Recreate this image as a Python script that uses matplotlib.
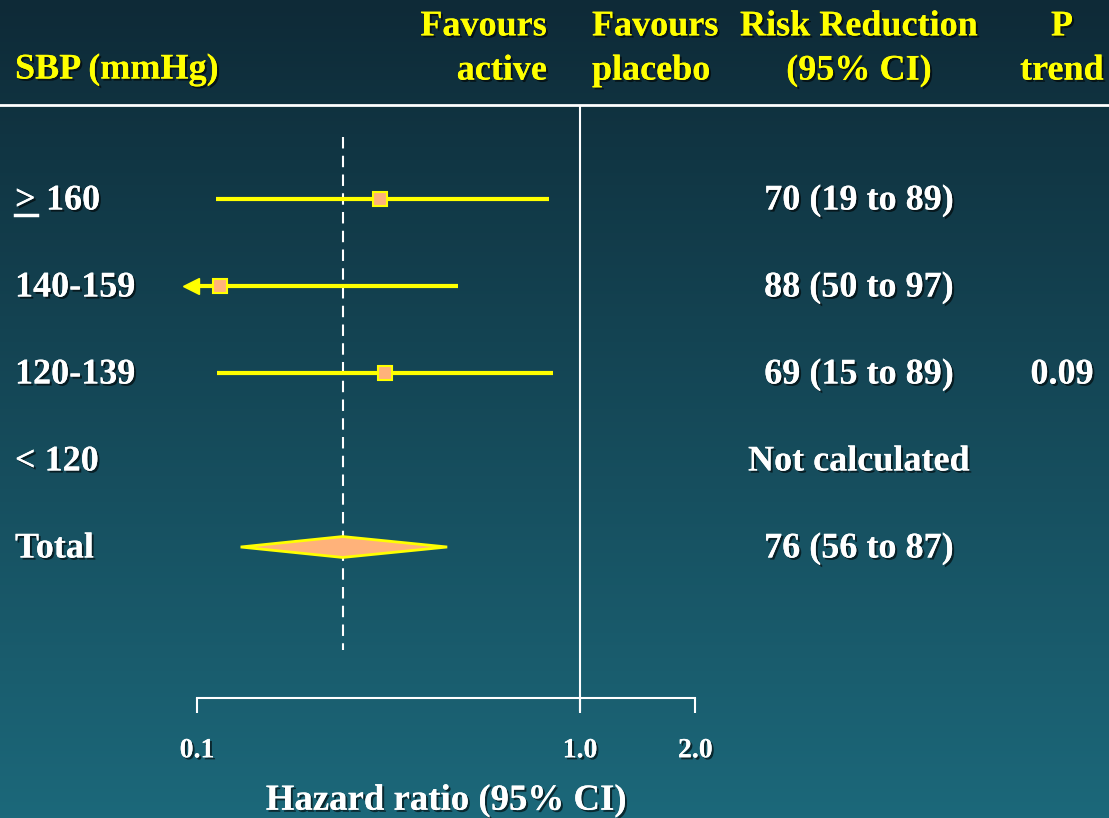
import numpy as np
import matplotlib
matplotlib.use('Agg')
import matplotlib.pyplot as plt
import matplotlib.patheffects as pe
from matplotlib.lines import Line2D
from matplotlib.patches import Polygon

W, H = 1109, 818

# data
groups = ['> 160', '140-159', '120-139', '< 120', 'Total']
hr = [0.30, 0.115, 0.31, None, 0.24]
ci_low = [0.112, 0.03, 0.113, None, 0.13]
ci_high = [0.83, 0.48, 0.85, None, 0.45]
risk_text = ['70 (19 to 89)', '88 (50 to 97)', '69 (15 to 89)', 'Not calculated', '76 (56 to 87)']
p_trend = ['', '', '0.09', '', '']
tick_vals = [0.1, 1.0, 2.0]
tick_labels = ['0.1', '1.0', '2.0']

YELLOW = '#ffff00'
PEACH = '#ffb27a'
axis_floor = 0.0965  # where the clipped CI arrow is drawn

plt.rcParams['font.family'] = ['Liberation Serif', 'DejaVu Serif']
plt.rcParams['font.weight'] = 'bold'

shadow = [pe.withSimplePatchShadow(offset=(1.5, -1.5), shadow_rgbFace='black', alpha=0.6),
          pe.Normal()]


def px(x, y):
    return x / W, 1 - y / H


fig = plt.figure(figsize=(W / 100, H / 100), dpi=100)

# background gradient
bg = fig.add_axes([0, 0, 1, 1], zorder=0)
top = np.array([14, 42, 55]) / 255
bot = np.array([28, 104, 122]) / 255
t = np.linspace(0, 1, 256)[:, None, None]
grad = top * (1 - t) + bot * t
bg.imshow(np.repeat(grad, 2, axis=1), aspect='auto', extent=[0, 1, 0, 1])
bg.axis('off')

# forest axes, placed so 0.1 -> x=197px, 1.0 -> x=580px, rows every 87px from y=199
x0, x1 = 197, 580 + 383 * np.log10(2.0)
y_top, y_bot = 105, 698
row0, step = 199, 87
ax = fig.add_axes([x0 / W, 1 - y_bot / H, (x1 - x0) / W, (y_bot - y_top) / H], zorder=1)
ax.patch.set_alpha(0)
ax.set_xscale('log')
ax.set_xlim(0.1, 2.0)
ax.set_ylim((y_bot - row0) / step, (y_top - row0) / step)

for s in ['top', 'left', 'right']:
    ax.spines[s].set_visible(False)
ax.spines['bottom'].set_color('white')
ax.spines['bottom'].set_linewidth(1.5)
ax.set_yticks([])
ax.set_xticks(tick_vals)
ax.set_xticklabels(tick_labels)
ax.minorticks_off()
ax.tick_params(axis='x', direction='out', length=11, width=1.5, color='white',
               labelcolor='white', labelsize=20, pad=18)
for lab in ax.get_xticklabels():
    lab.set_path_effects(shadow)
ax.set_xlabel('Hazard ratio (95% CI)', color='white', fontsize=26.5, fontweight='bold',
              labelpad=14, path_effects=shadow)

# line of no effect and overall estimate
ax.plot([1, 1], [(y_top + 2 - row0) / step, (710 - row0) / step], color='white', lw=1.5,
        clip_on=False)
ax.plot([hr[-1], hr[-1]], [(137 - row0) / step, (650 - row0) / step], color='white', lw=1.5,
        ls=(0, (5.5, 3.5)), clip_on=False)

for i in range(len(groups) - 1):
    if hr[i] is None:
        continue
    lo = max(ci_low[i], axis_floor)
    ax.plot([lo, ci_high[i]], [i, i], color=YELLOW, lw=3, solid_capstyle='butt',
            clip_on=False, zorder=3)
    if ci_low[i] < axis_floor:
        ax.plot([lo], [i], marker='<', ms=11, color=YELLOW, mec=YELLOW, clip_on=False, zorder=3)
    ax.plot([hr[i]], [i], marker='s', ms=10, mfc=PEACH, mec=YELLOW, mew=1.5, clip_on=False,
            zorder=4)

# pooled diamond
k = len(groups) - 1
dh = 0.12
diamond = Polygon([(ci_low[k], k), (hr[k], k - dh), (ci_high[k], k), (hr[k], k + dh)],
                  closed=True, facecolor=PEACH, edgecolor=YELLOW, lw=2, zorder=3)
ax.add_patch(diamond)

# header
fig.add_artist(Line2D([0, 1], [1 - 105 / H] * 2, color='white', lw=2))
hdr = dict(color=YELLOW, fontsize=26, path_effects=shadow, va='center', linespacing=1.45)
fig.text(*px(15, 70), 'SBP (mmHg)', ha='left', **hdr)
fig.text(*px(547, 49), 'Favours\nactive', ha='right', multialignment='right', **hdr)
fig.text(*px(592, 49), 'Favours\nplacebo', ha='left', multialignment='left', **hdr)
fig.text(*px(859, 49), 'Risk Reduction\n(95% CI)', ha='center', multialignment='center', **hdr)
fig.text(*px(1062, 49), 'P\ntrend', ha='center', multialignment='center', **hdr)

# rows
row_txt = dict(color='white', fontsize=26, path_effects=shadow, va='center')
for i, g in enumerate(groups):
    y = row0 + step * i + 2
    if g.startswith('>'):
        fig.text(*px(15, y), '>', ha='left', **row_txt)
        fig.add_artist(Line2D([15 / W, 37 / W], [1 - (y + 14) / H] * 2, color='white', lw=2.5))
        fig.text(*px(46, y), g[2:], ha='left', **row_txt)
    else:
        fig.text(*px(15, y), g, ha='left', **row_txt)
    fig.text(*px(859, y), risk_text[i], ha='center', **row_txt)
    if p_trend[i]:
        fig.text(*px(1062, y), p_trend[i], ha='center', **row_txt)

fig.savefig('out.png', dpi=100)
